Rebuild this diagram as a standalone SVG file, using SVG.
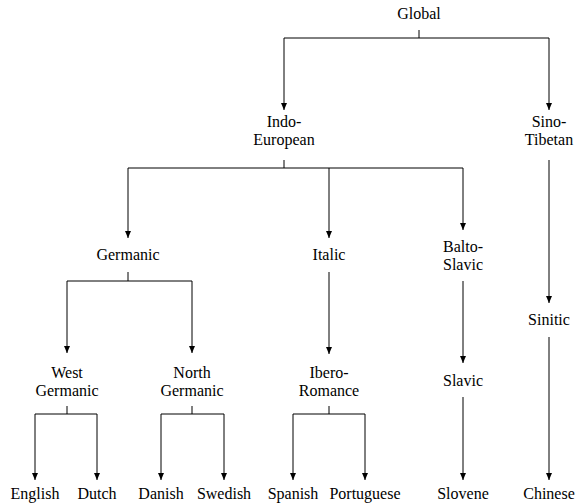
<svg xmlns="http://www.w3.org/2000/svg" width="579" height="504" viewBox="0 0 579 504">
<defs>
<style>
.t text{font-size:16px;fill:#000;text-anchor:middle}
.e{fill:none;stroke:#000;stroke-width:1}
.a{marker-end:url(#arr)}
</style>
<marker id="arr" markerUnits="userSpaceOnUse" markerWidth="7" markerHeight="6" refX="7" refY="3" orient="auto">
<path d="M0,0 L7,3 L0,6 z" fill="#000"/>
</marker>
</defs>
<rect width="579" height="504" fill="#fff"/>
<g id="connectors">
<path class="e" d="M419,30 V38 M284,38 H549 M284,160 V168 M128,168 H463 M128,272 V281 M67,281 H192 M67,406 V414 M35,414 H97 M192,406 V414 M161,414 H224 M329,406 V414 M293,414 H365"/>
<path class="e a" d="M284,38 V110"/>
<path class="e a" d="M549,38 V110"/>
<path class="e a" d="M128,168 V238"/>
<path class="e a" d="M329,168 V238"/>
<path class="e a" d="M463,168 V230"/>
<path class="e a" d="M549,160 V303"/>
<path class="e a" d="M67,281 V353"/>
<path class="e a" d="M192,281 V353"/>
<path class="e a" d="M329,272 V354"/>
<path class="e a" d="M463,281 V363"/>
<path class="e a" d="M549,337 V480"/>
<path class="e a" d="M35,414 V480"/>
<path class="e a" d="M97,414 V480"/>
<path class="e a" d="M161,414 V480"/>
<path class="e a" d="M224,414 V480"/>
<path class="e a" d="M293,414 V480"/>
<path class="e a" d="M365,414 V480"/>
<path class="e a" d="M463,397 V480"/>
</g>
<g class="t" font-family="'Liberation Serif', 'Times New Roman', 'DejaVu Serif', serif">
<g id="global"><text x="419" y="19">Global</text></g>
<g id="indo-european"><text x="284" y="127">Indo-</text><text x="284" y="145">European</text></g>
<g id="sino-tibetan"><text x="549" y="127">Sino-</text><text x="549" y="145">Tibetan</text></g>
<g id="germanic"><text x="128" y="260">Germanic</text></g>
<g id="italic"><text x="329" y="260">Italic</text></g>
<g id="balto-slavic"><text x="463" y="252">Balto-</text><text x="463" y="270">Slavic</text></g>
<g id="sinitic"><text x="549" y="325">Sinitic</text></g>
<g id="west-germanic"><text x="67" y="378">West</text><text x="67" y="396">Germanic</text></g>
<g id="north-germanic"><text x="192" y="378">North</text><text x="192" y="396">Germanic</text></g>
<g id="ibero-romance"><text x="329" y="378">Ibero-</text><text x="329" y="396">Romance</text></g>
<g id="slavic"><text x="463" y="386">Slavic</text></g>
<g id="english"><text x="35" y="499">English</text></g>
<g id="dutch"><text x="97" y="499">Dutch</text></g>
<g id="danish"><text x="161" y="499">Danish</text></g>
<g id="swedish"><text x="224" y="499">Swedish</text></g>
<g id="spanish"><text x="293" y="499">Spanish</text></g>
<g id="portuguese"><text x="365" y="499">Portuguese</text></g>
<g id="slovene"><text x="463" y="499">Slovene</text></g>
<g id="chinese"><text x="549" y="499">Chinese</text></g>
</g>
</svg>
